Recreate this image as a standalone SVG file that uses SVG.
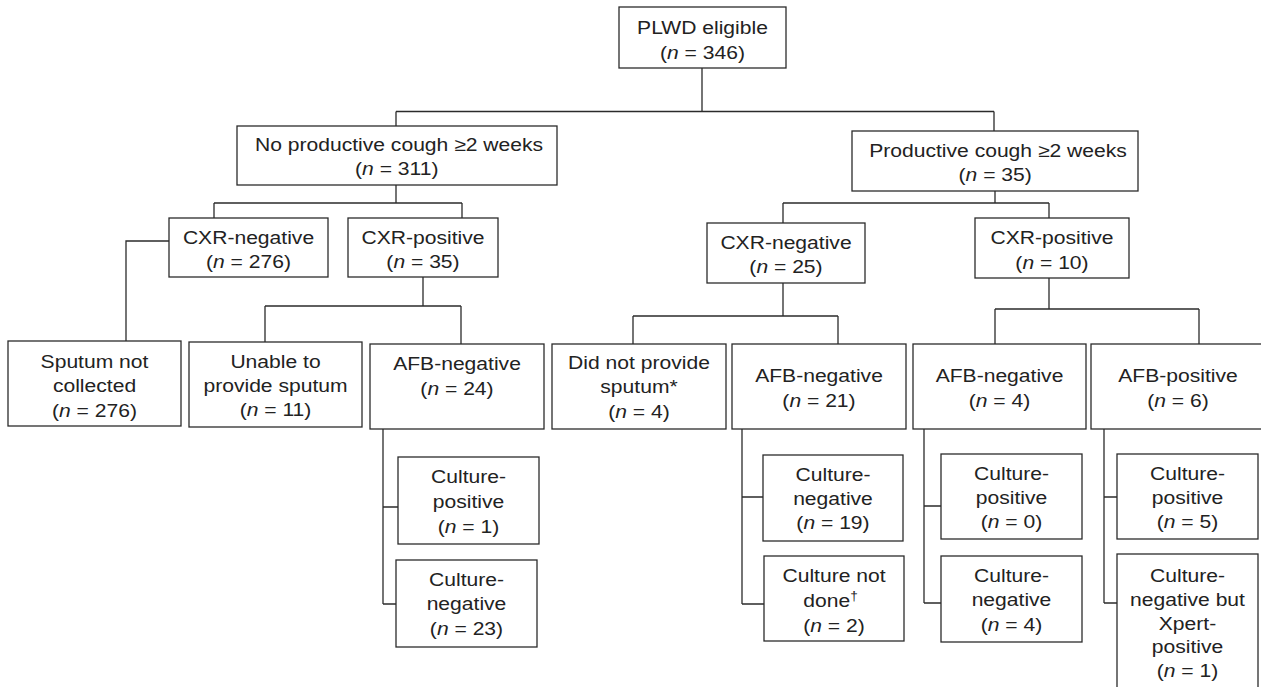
<svg xmlns="http://www.w3.org/2000/svg" width="1261" height="687" viewBox="0 0 1261 687">
<style>
rect{fill:#fff;stroke:#2b2b2b;stroke-width:1.3}
#connectors path{fill:none;stroke:#2b2b2b;stroke-width:1.3}
text{font-family:"Liberation Sans",Arial,sans-serif;font-size:18.5px;fill:#222;text-anchor:middle}
.i{font-style:italic}
</style>
<rect x="0" y="0" width="1261" height="687" style="fill:#fff;stroke:none"/>
<g id="connectors">
<path d="M702,68V111.5M396,111.5H994M396,111.5V126M994,111.5V131"/>
<path d="M396,185V203M214,203H462M214,203V218M462,203V218"/>
<path d="M169,241H126V341"/>
<path d="M423,277V306M265,306H461M265,306V342M461,306V344"/>
<path d="M995,191V203M783,203H1049M783,203V223M1049,203V218"/>
<path d="M783,283V316M633,316H838M633,316V344M838,316V344"/>
<path d="M1049,278V309M995,309H1199M995,309V344M1199,309V344"/>
<path d="M383,429V604M383,507H398M383,604H396"/>
<path d="M742,429V604M742,497H763M742,604H764"/>
<path d="M924,429V603M924,506H941M924,603H941"/>
<path d="M1104,429V603M1104,497H1117M1104,603H1117"/>
</g>
<g id="n-plwd"><rect x="619" y="7" width="167" height="61"/>
<text transform="translate(702.5,34) scale(1.14,1)"><tspan x="0">PLWD eligible</tspan><tspan x="0" dy="25">(<tspan class="i">n</tspan> = 346)</tspan></text></g>
<g id="n-nocough"><rect x="237" y="126" width="320" height="59"/>
<text transform="translate(399,150.5) scale(1.14,1)"><tspan x="0">No productive cough ≥2 weeks</tspan><tspan x="-2" dy="25">(<tspan class="i">n</tspan> = 311)</tspan></text></g>
<g id="n-cough"><rect x="852" y="131" width="286" height="60"/>
<text transform="translate(998,156.5) scale(1.14,1)"><tspan x="0">Productive cough ≥2 weeks</tspan><tspan x="-2.5" dy="25">(<tspan class="i">n</tspan> = 35)</tspan></text></g>
<g id="n-cxrneg1"><rect x="169" y="218" width="159" height="59"/>
<text transform="translate(248.5,243.5) scale(1.14,1)"><tspan x="0">CXR-negative</tspan><tspan x="0" dy="25">(<tspan class="i">n</tspan> = 276)</tspan></text></g>
<g id="n-cxrpos1"><rect x="348" y="218" width="150" height="59"/>
<text transform="translate(423,243.5) scale(1.14,1)"><tspan x="0">CXR-positive</tspan><tspan x="0" dy="25">(<tspan class="i">n</tspan> = 35)</tspan></text></g>
<g id="n-cxrneg2"><rect x="707" y="223" width="158" height="60"/>
<text transform="translate(786,249) scale(1.14,1)"><tspan x="0">CXR-negative</tspan><tspan x="0" dy="24.5">(<tspan class="i">n</tspan> = 25)</tspan></text></g>
<g id="n-cxrpos2"><rect x="975" y="218" width="154" height="60"/>
<text transform="translate(1052,243.5) scale(1.14,1)"><tspan x="0">CXR-positive</tspan><tspan x="0" dy="25.5">(<tspan class="i">n</tspan> = 10)</tspan></text></g>
<g id="n-sputum"><rect x="8" y="341" width="173" height="85"/>
<text transform="translate(94.5,368) scale(1.14,1)"><tspan x="0">Sputum not</tspan><tspan x="0" dy="24.5">collected</tspan><tspan x="0" dy="24.5">(<tspan class="i">n</tspan> = 276)</tspan></text></g>
<g id="n-unable"><rect x="189" y="342" width="173" height="85"/>
<text transform="translate(275.5,367.5) scale(1.14,1)"><tspan x="0">Unable to</tspan><tspan x="0" dy="24.5">provide sputum</tspan><tspan x="0" dy="24.5">(<tspan class="i">n</tspan> = 11)</tspan></text></g>
<g id="n-afbneg1"><rect x="370" y="344" width="174" height="85"/>
<text transform="translate(457,370) scale(1.14,1)"><tspan x="0">AFB-negative</tspan><tspan x="0" dy="25">(<tspan class="i">n</tspan> = 24)</tspan></text></g>
<g id="n-didnot"><rect x="552" y="344" width="174" height="85"/>
<text transform="translate(639,369) scale(1.14,1)"><tspan x="0">Did not provide</tspan><tspan x="0" dy="24.5">sputum*</tspan><tspan x="0" dy="24.5">(<tspan class="i">n</tspan> = 4)</tspan></text></g>
<g id="n-afbneg2"><rect x="732" y="344" width="174" height="85"/>
<text transform="translate(819,382) scale(1.14,1)"><tspan x="0">AFB-negative</tspan><tspan x="0" dy="25">(<tspan class="i">n</tspan> = 21)</tspan></text></g>
<g id="n-afbneg3"><rect x="913" y="344" width="173" height="85"/>
<text transform="translate(999.5,382) scale(1.14,1)"><tspan x="0">AFB-negative</tspan><tspan x="0" dy="25">(<tspan class="i">n</tspan> = 4)</tspan></text></g>
<g id="n-afbpos"><rect x="1091" y="344" width="175" height="85"/>
<text transform="translate(1178,382) scale(1.14,1)"><tspan x="0">AFB-positive</tspan><tspan x="0" dy="25">(<tspan class="i">n</tspan> = 6)</tspan></text></g>
<g id="n-cpos1"><rect x="398" y="457" width="141" height="87"/>
<text transform="translate(468.5,483) scale(1.14,1)"><tspan x="0">Culture-</tspan><tspan x="0" dy="25">positive</tspan><tspan x="0" dy="25">(<tspan class="i">n</tspan> = 1)</tspan></text></g>
<g id="n-cneg1"><rect x="396" y="560" width="141" height="87"/>
<text transform="translate(466.5,586) scale(1.14,1)"><tspan x="0">Culture-</tspan><tspan x="0" dy="24.5">negative</tspan><tspan x="0" dy="24.5">(<tspan class="i">n</tspan> = 23)</tspan></text></g>
<g id="n-cneg2"><rect x="763" y="455" width="140" height="86"/>
<text transform="translate(833,480.5) scale(1.14,1)"><tspan x="0">Culture-</tspan><tspan x="0" dy="24.5">negative</tspan><tspan x="0" dy="24.5">(<tspan class="i">n</tspan> = 19)</tspan></text></g>
<g id="n-cnotdone"><rect x="764" y="556" width="140" height="85"/>
<text transform="translate(834,582) scale(1.14,1)"><tspan x="0">Culture not</tspan><tspan x="-3" dy="25">done<tspan font-size="12" dy="-7">†</tspan></tspan><tspan x="0" dy="32">(<tspan class="i">n</tspan> = 2)</tspan></text></g>
<g id="n-cpos2"><rect x="941" y="454" width="141" height="85"/>
<text transform="translate(1011.5,479.5) scale(1.14,1)"><tspan x="0">Culture-</tspan><tspan x="0" dy="24.5">positive</tspan><tspan x="0" dy="24.5">(<tspan class="i">n</tspan> = 0)</tspan></text></g>
<g id="n-cneg3"><rect x="941" y="556" width="141" height="86"/>
<text transform="translate(1011.5,582) scale(1.14,1)"><tspan x="0">Culture-</tspan><tspan x="0" dy="24.5">negative</tspan><tspan x="0" dy="24.5">(<tspan class="i">n</tspan> = 4)</tspan></text></g>
<g id="n-cpos3"><rect x="1117" y="454" width="141" height="85"/>
<text transform="translate(1187.5,479.5) scale(1.14,1)"><tspan x="0">Culture-</tspan><tspan x="0" dy="24.5">positive</tspan><tspan x="0" dy="24.5">(<tspan class="i">n</tspan> = 5)</tspan></text></g>
<g id="n-xpert"><rect x="1117" y="554" width="141" height="140"/>
<text transform="translate(1187.5,582) scale(1.14,1)"><tspan x="0">Culture-</tspan><tspan x="0" dy="24">negative but</tspan><tspan x="0" dy="24">Xpert-</tspan><tspan x="0" dy="23.5">positive</tspan><tspan x="0" dy="23.5">(<tspan class="i">n</tspan> = 1)</tspan></text></g>
</svg>
